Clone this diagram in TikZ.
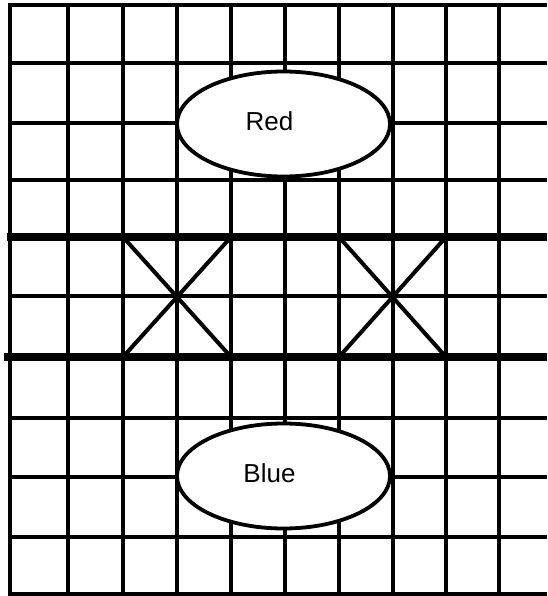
\documentclass[tikz,border=0pt]{standalone}
\usepackage{fontspec}
\setmainfont{Liberation Sans}
\usepackage{tikz}
\usetikzlibrary{shapes.geometric}

\tikzset{
  thinline/.style={line width=4pt},
  thickline/.style={line width=7.2pt},
  blob/.style={ellipse, draw, fill=white, line width=3.8pt,
    minimum width=213pt, minimum height=105pt, inner sep=0pt},
  blobtext/.style={xshift=-14pt, yshift=3pt,
    font=\fontsize{26}{30}\selectfont}
}

\begin{document}
\begin{tikzpicture}[x=1pt, y=-1pt]
  \useasboundingbox (0,0) rectangle (547,596);

  % Vertical grid lines
  \foreach \gx in {10,68,123,177,231,285,339,393,446,499}
    \draw[thinline] (\gx,5) -- (\gx,594);

  % Horizontal grid lines
  \foreach \gy in {5,63,123,180,296,418,477,537,594}
    \draw[thinline] (8,\gy) -- (547,\gy);

  % Thick river lines
  \draw[thickline] (7,237) -- (547,237);
  \draw[thickline] (4,357) -- (547,357);

  % Left cross
  \draw[thinline] (123,237) -- (231,357);
  \draw[thinline] (231,237) -- (123,357);

  % Right cross
  \draw[thinline] (339,237) -- (446,357);
  \draw[thinline] (446,237) -- (339,357);

  % Ellipses
  \node[blob, label={[blobtext]center:Red}] (red) at (283.5,124) {};
  \node[blob, label={[blobtext]center:Blue}] (blue) at (283.5,476) {};
\end{tikzpicture}
\end{document}
